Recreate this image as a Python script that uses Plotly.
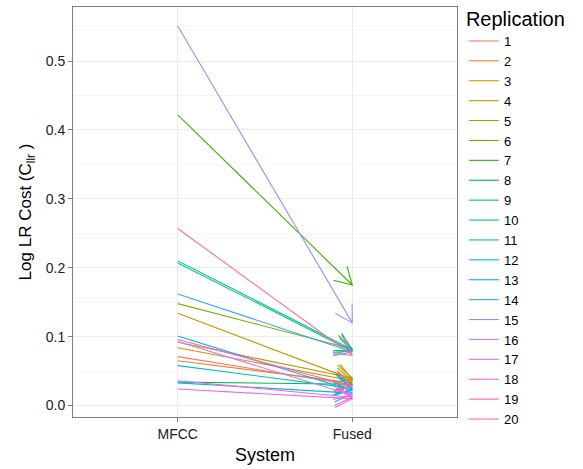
import numpy as np
import plotly.graph_objects as go

systems = ["MFCC", "Fused"]
replications = [str(i) for i in range(1, 21)]
mfcc = [0.071, 0.065, 0.084, 0.134, 0.092, 0.148, 0.422, 0.034, 0.210, 0.207,
        0.058, 0.033, 0.101, 0.162, 0.551, 0.093, 0.024, 0.036, 0.096, 0.257]
fused = [0.030, 0.033, 0.036, 0.038, 0.040, 0.082, 0.175, 0.031, 0.081, 0.079,
         0.025, 0.018, 0.022, 0.078, 0.120, 0.015, 0.010, 0.012, 0.028, 0.073]
colors = ["#F8766D", "#EA8331", "#D89000", "#C09B00", "#A3A500", "#7CAE00", "#39B600",
          "#00BB4E", "#00BF7D", "#00C1A3", "#00BFC4", "#00BAE0", "#00B0F6", "#35A2FF",
          "#9590FF", "#C77CFF", "#E76BF3", "#FA62DB", "#FF62BC", "#FF6C91"]

W, H = 583, 469
ml, mr, mt, mb = 73, 126, 7, 52
xr = [0.4, 2.6]
yr = [-0.0166, 0.5785]
kx = (W - ml - mr) / (xr[1] - xr[0])
ky = (H - mt - mb) / (yr[1] - yr[0])
L = 19.5
ang = np.deg2rad(30)

fig = go.Figure()
for rep, m, f, c in zip(replications, mfcc, fused, colors):
    vx, vy = (2 - 1) * kx, (f - m) * ky
    n = np.hypot(vx, vy)
    bx, by = -vx / n, -vy / n
    xs, ys = [1, 2, None], [m, f, None]
    for s in (1, -1):
        ca, sa = np.cos(s * ang), np.sin(s * ang)
        rx, ry = bx * ca - by * sa, bx * sa + by * ca
        xs += [2 + L * rx / kx, 2]
        ys += [f + L * ry / ky, f]
    fig.add_trace(go.Scatter(x=xs, y=ys, mode="lines", name=rep,
                             line=dict(color=c, width=1.1), connectgaps=False))

fig.update_layout(
    width=W, height=H,
    margin=dict(l=ml, r=mr, t=mt, b=mb, autoexpand=False),
    paper_bgcolor="white", plot_bgcolor="white",
    font=dict(family="Liberation Sans, Arial", color="black"),
    legend=dict(title=dict(text="Replication", font=dict(size=20)),
                font=dict(size=13), x=1.018, y=1.016, xanchor="left", yanchor="top",
                yref="container", tracegroupgap=0, itemwidth=30, maxheight=469),
    showlegend=True,
)
fig.update_xaxes(range=xr, tickvals=[1, 2], ticktext=systems,
                 title=dict(text="System", font=dict(size=18), standoff=7),
                 tickfont=dict(size=14, color="#222222"), automargin=False,
                 showgrid=True, gridcolor="#EBEBEB", gridwidth=1, zeroline=False,
                 showline=True, mirror=True, linecolor="#7F7F7F", linewidth=1,
                 ticks="outside", ticklen=4, tickcolor="#7F7F7F")
fig.update_yaxes(range=yr, tickvals=[0, 0.1, 0.2, 0.3, 0.4, 0.5],
                 ticktext=["0.0", "0.1", "0.2", "0.3", "0.4", "0.5"],
                 title=dict(text="Log LR Cost (C<sub>llr</sub> )", font=dict(size=17), standoff=9),
                 tickfont=dict(size=14, color="#222222"), automargin=False,
                 showgrid=True, gridcolor="#EBEBEB", gridwidth=1, zeroline=False,
                 minor=dict(tickvals=[0.05, 0.15, 0.25, 0.35, 0.45, 0.55], showgrid=True,
                            gridcolor="#F5F5F5", ticks=""),
                 showline=True, mirror=True, linecolor="#7F7F7F", linewidth=1,
                 ticks="outside", ticklen=4, tickcolor="#7F7F7F")

fig.write_html("out.html", config={"displayModeBar": False},
               post_script="document.body.style.margin='0px';")
